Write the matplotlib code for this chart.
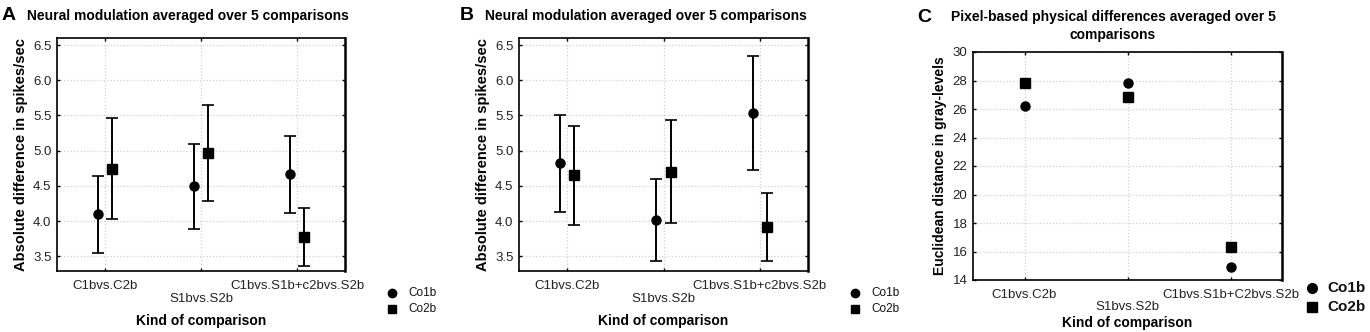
import numpy as np
import matplotlib
matplotlib.use("Agg")
import matplotlib.pyplot as plt
from matplotlib.lines import Line2D

plt.rcParams['font.family'] = ['Liberation Sans', 'DejaVu Sans']

# categorias de comparacao
cats_ab = ["C1bvs.C2b", "S1bvs.S2b", "C1bvs.S1b+c2bvs.S2b"]
cats_c = ["C1bvs.C2b", "S1bvs.S2b", "C1bvs.S1b+C2bvs.S2b"]

# painel A: media, limite superior, limite inferior
a_co1b = [4.10, 4.50, 4.67]
a_co1b_hi = [4.64, 5.10, 5.21]
a_co1b_lo = [3.54, 3.88, 4.11]
a_co2b = [4.74, 4.96, 3.78]
a_co2b_hi = [5.46, 5.65, 4.19]
a_co2b_lo = [4.03, 4.28, 3.36]

# painel B
b_co1b = [4.83, 4.02, 5.54]
b_co1b_hi = [5.51, 4.59, 6.35]
b_co1b_lo = [4.13, 3.43, 4.72]
b_co2b = [4.65, 4.69, 3.92]
b_co2b_hi = [5.35, 5.43, 4.40]
b_co2b_lo = [3.95, 3.97, 3.43]

# painel C (sem barras de erro)
c_co1b = [26.2, 27.85, 14.9]
c_co2b = [27.85, 26.85, 16.35]

W, H = 1370, 332
fig = plt.figure(figsize=(W / 100, H / 100), dpi=100)


def box(l, t, r, b):
    return [l / W, 1 - b / H, (r - l) / W, (b - t) / H]


def estilo(ax, cats, ylim, yticks, tickfmt, xlab_y):
    ax.set_xlim(-0.5, 2.5)
    ax.set_ylim(*ylim)
    ax.set_yticks(yticks)
    ax.set_yticklabels([tickfmt.format(v) for v in yticks], fontsize=9.5, color='#222222')
    ax.set_xticks(range(3))
    ax.set_xticklabels([])
    ax.tick_params(direction='in', length=2.5, width=1, top=True, right=True, pad=4)
    ax.grid(True, color='#d0d0d0', linestyle=':', linewidth=0.9)
    ax.set_axisbelow(True)
    for s in ax.spines.values():
        s.set_linewidth(1.2)
    ax.spines['right'].set_linewidth(1.8)
    # rotulos escalonados como no original
    for i, c in enumerate(cats):
        dy = -0.065 if i != 1 else -0.12
        ax.text(i, dy, c, transform=ax.get_xaxis_transform(), ha='center', va='center',
                fontsize=9.5, color='#222222')
    # titulo do eixo x numa posicao fixa da figura
    pos = ax.get_position()
    fig.text(pos.x0 + pos.width / 2, 1 - xlab_y / H, "Kind of comparison",
             fontsize=10, fontweight='bold', ha='center', va='center')


def erros(ax, xs, m, hi, lo, marker, ms):
    m = np.array(m)
    yerr = [m - np.array(lo), np.array(hi) - m]
    ax.errorbar(xs, m, yerr=yerr, fmt=marker, color='black', ms=ms, elinewidth=1.4,
                capsize=4, capthick=1.2, zorder=3)


def legenda(px, py1, py2, ms, tx, fs, peso):
    fig.add_artist(Line2D([px / W], [1 - py1 / H], marker='o', ms=ms, color='black',
                          transform=fig.transFigure))
    fig.add_artist(Line2D([px / W], [1 - py2 / H], marker='s', ms=ms - 0.5, color='black',
                          transform=fig.transFigure))
    fig.text(tx / W, 1 - py1 / H, "Co1b", fontsize=fs, fontweight=peso, va='center', color='#111111')
    fig.text(tx / W, 1 - py2 / H, "Co2b", fontsize=fs, fontweight=peso, va='center', color='#111111')


x = np.arange(3)
off = 0.075
paineis = [
    ("A", box(57, 38, 345, 271), a_co1b, a_co1b_hi, a_co1b_lo, a_co2b, a_co2b_hi, a_co2b_lo, 2, 392),
    ("B", box(519, 38, 808, 271), b_co1b, b_co1b_hi, b_co1b_lo, b_co2b, b_co2b_hi, b_co2b_lo, 460, 855),
]
for letra, pos, m1, h1, l1, m2, h2, l2, lx, legx in paineis:
    ax = fig.add_axes(pos)
    estilo(ax, cats_ab, (3.29, 6.6), [3.5, 4.0, 4.5, 5.0, 5.5, 6.0, 6.5], "{:.1f}", 321)
    erros(ax, x - off, m1, h1, l1, 'o', 6.5)
    erros(ax, x + off, m2, h2, l2, 's', 6.5)
    ax.set_ylabel("Absolute difference in spikes/sec", fontsize=10.5, fontweight='bold', labelpad=4)
    fig.text(lx / W, 1 - 16 / H, letra, fontsize=14, fontweight='bold', va='center')
    fig.text((lx + 25) / W, 1 - 16 / H, "Neural modulation averaged over 5 comparisons",
             fontsize=10, fontweight='bold', va='center')
    legenda(legx, 293, 309, 6, legx + 16, 8.5, 'normal')

# painel C
axc = fig.add_axes(box(973, 52, 1282, 280))
estilo(axc, cats_c, (14, 30), list(range(14, 31, 2)), "{:d}", 323)
axc.plot(x, c_co1b, 'o', color='black', ms=6.5, zorder=3)
axc.plot(x, c_co2b, 's', color='black', ms=6.5, zorder=3)
axc.set_ylabel("Euclidean distance in gray-levels", fontsize=10, fontweight='bold', labelpad=4)
fig.text(917 / W, 1 - 17 / H, "C", fontsize=14, fontweight='bold', va='center')
fig.text(1113 / W, 1 - 17 / H, "Pixel-based physical differences averaged over 5",
         fontsize=10, fontweight='bold', va='center', ha='center')
fig.text(1113 / W, 1 - 35 / H, "comparisons", fontsize=10, fontweight='bold', va='center', ha='center')
legenda(1312, 288, 307, 7, 1327, 11, 'bold')

fig.savefig("out.png", dpi=100)
